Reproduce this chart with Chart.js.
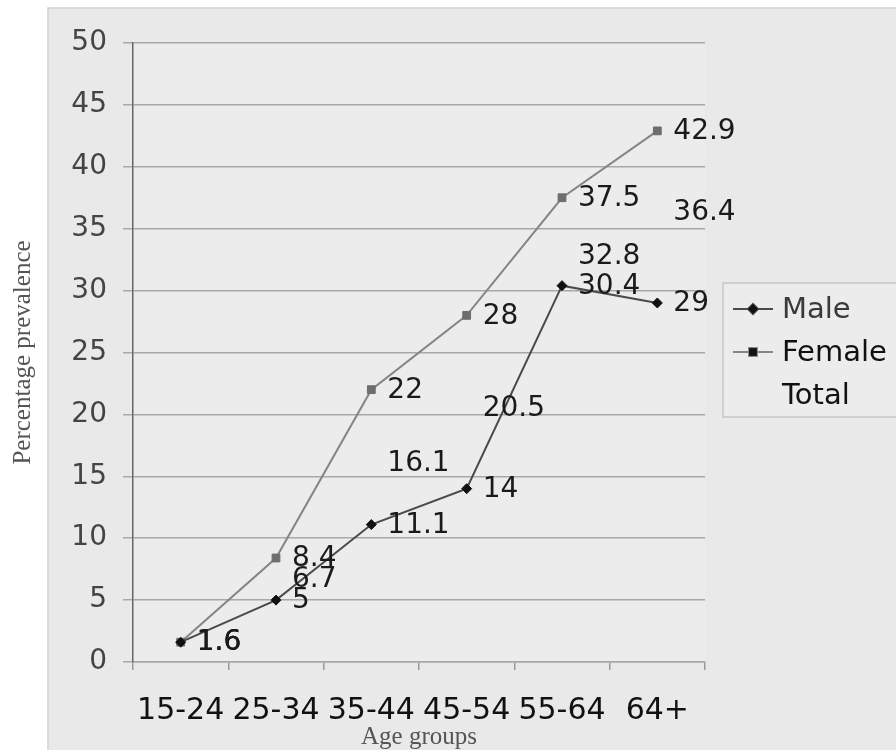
<!DOCTYPE html>
<html lang="en">
<head>
    <meta charset="UTF-8">
    <title>Percentage prevalence by age group</title>
    <script src="https://cdn.jsdelivr.net/npm/chart.js"></script>
    <style>
        body {
            margin: 0;
            background: white;
        }
        canvas {
            display: block;
        }
    </style>
</head>
<body>
    <canvas id="prevalenceChart" width="896" height="750"></canvas>

    <script>
        // values
        const ageGroups = ['15-24', '25-34', '35-44', '45-54', '55-64', '64+'];
        const male = [1.6, 5, 11.1, 14, 30.4, 29];
        const female = [1.6, 8.4, 22, 28, 37.5, 42.9];
        const total = [1.6, 6.7, 16.1, 20.5, 32.8, 36.4];
        const yTicks = [0, 5, 10, 15, 20, 25, 30, 35, 40, 45, 50];

        // grey frame behind the chart, like the scanned figure
        const framePlugin = {
            id: 'frame',
            beforeDraw(chart) {
                const ctx = chart.ctx;
                ctx.save();
                ctx.fillStyle = '#e9e9e9';
                ctx.fillRect(48, 8, chart.width - 48, chart.height - 8);
                ctx.strokeStyle = '#d2d2d2';
                ctx.lineWidth = 1.5;
                ctx.beginPath();
                ctx.moveTo(48, chart.height);
                ctx.lineTo(48, 8);
                ctx.lineTo(chart.width, 8);
                ctx.stroke();
                const a = chart.chartArea;
                ctx.fillStyle = '#ececec';
                ctx.fillRect(a.left, a.top, a.right - a.left, a.bottom - a.top);
                ctx.restore();
            }
        };

        // value labels to the right of each point
        const valueLabels = {
            id: 'valueLabels',
            afterDatasetsDraw(chart) {
                const ctx = chart.ctx;
                ctx.save();
                ctx.font = '28px "DejaVu Sans"';
                ctx.fillStyle = '#1a1a1a';
                ctx.textAlign = 'left';
                ctx.textBaseline = 'middle';
                chart.data.datasets.forEach((ds, i) => {
                    chart.getDatasetMeta(i).data.forEach((pt, j) => {
                        ctx.fillText(String(ds.data[j]), pt.x + 16, pt.y + 1);
                    });
                });
                ctx.restore();
            }
        };

        // boxed legend on the right
        const boxLegend = {
            id: 'boxLegend',
            afterDraw(chart) {
                const ctx = chart.ctx;
                ctx.save();
                ctx.strokeStyle = '#c6c6c6';
                ctx.lineWidth = 1.5;
                ctx.fillStyle = '#ececec';
                ctx.fillRect(723, 283, 180, 134);
                ctx.strokeRect(723, 283, 180, 134);
                ctx.font = '29px "DejaVu Sans"';
                ctx.textBaseline = 'middle';
                chart.data.datasets.forEach((ds, i) => {
                    const y = 309 + i * 43;
                    if (ds.showInLegendLine) {
                        ctx.strokeStyle = ds.borderColor;
                        ctx.lineWidth = 2;
                        ctx.beginPath();
                        ctx.moveTo(733, y);
                        ctx.lineTo(773, y);
                        ctx.stroke();
                        Chart.helpers.drawPoint(ctx, {
                            pointStyle: ds.pointStyle,
                            radius: ds.pointRadius,
                            borderWidth: 1
                        }, 753, y);
                        ctx.fillStyle = '#111';
                        ctx.fill();
                    }
                    ctx.fillStyle = i === 0 ? '#3a3a3a' : '#111';
                    ctx.fillText(ds.label, 782, y + 1);
                });
                ctx.restore();
            }
        };

        const ctx = document.getElementById('prevalenceChart').getContext('2d');
        new Chart(ctx, {
            type: 'line',
            data: {
                labels: ageGroups,
                datasets: [
                    {
                        label: 'Male',
                        data: male,
                        borderColor: '#4a4a4a',
                        backgroundColor: '#111',
                        borderWidth: 2,
                        pointStyle: 'rectRot',
                        pointRadius: 5,
                        pointBorderWidth: 1,
                        pointBorderColor: '#111',
                        showInLegendLine: true,
                        tension: 0
                    },
                    {
                        label: 'Female',
                        data: female,
                        borderColor: '#858585',
                        backgroundColor: '#6e6e6e',
                        borderWidth: 2,
                        pointStyle: 'rect',
                        pointRadius: 5.5,
                        pointBorderWidth: 1,
                        pointBorderColor: '#6e6e6e',
                        showInLegendLine: true,
                        tension: 0
                    },
                    {
                        label: 'Total',
                        data: total,
                        borderColor: 'rgba(0,0,0,0)',
                        backgroundColor: 'rgba(0,0,0,0)',
                        borderWidth: 0,
                        pointRadius: 0,
                        showInLegendLine: false
                    }
                ]
            },
            options: {
                responsive: false,
                animation: false,
                layout: {
                    padding: { top: 43, right: 191, bottom: 0, left: 0 }
                },
                scales: {
                    x: {
                        offset: true,
                        afterFit(scale) { scale.height = 88; },
                        grid: {
                            offset: true,
                            drawOnChartArea: false,
                            color: '#9a9a9a',
                            lineWidth: 1.5,
                            tickLength: 8
                        },
                        border: { color: '#a8a8a8', width: 1.5 },
                        ticks: {
                            color: '#111',
                            padding: 23,
                            maxRotation: 0,
                            autoSkip: false,
                            font: { family: '"DejaVu Sans"', size: 30 }
                        },
                        title: {
                            display: true,
                            text: 'Age groups',
                            color: '#555',
                            padding: { top: 0, bottom: 0 },
                            font: { family: '"Liberation Serif"', size: 25, lineHeight: 1 }
                        }
                    },
                    y: {
                        min: 0,
                        max: 50,
                        afterFit(scale) { scale.width = 133; },
                        afterBuildTicks(scale) {
                            scale.ticks = yTicks.map(v => ({ value: v }));
                        },
                        grid: {
                            color: '#a8a8a8',
                            lineWidth: 1.5,
                            tickLength: 10
                        },
                        border: { color: '#666', width: 1.5 },
                        ticks: {
                            color: '#444',
                            padding: 16,
                            font: { family: '"DejaVu Sans"', size: 28 }
                        },
                        title: {
                            display: true,
                            text: 'Percentage prevalence',
                            color: '#555',
                            padding: { top: 8, bottom: 0 },
                            font: { family: '"Liberation Serif"', size: 25 }
                        }
                    }
                },
                plugins: {
                    legend: { display: false },
                    tooltip: { enabled: false }
                }
            },
            plugins: [framePlugin, valueLabels, boxLegend]
        });
    </script>
</body>
</html>
